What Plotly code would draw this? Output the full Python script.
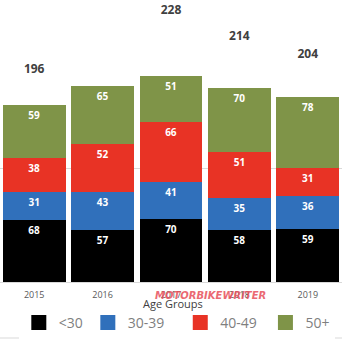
import plotly.graph_objects as go

years = ["2015", "2016", "2017", "2018", "2019"]
under30 = [68, 57, 70, 58, 59]
age30_39 = [31, 43, 41, 35, 36]
age40_49 = [38, 52, 66, 51, 31]
age50p = [59, 65, 51, 70, 78]
totals = [196, 217, 228, 214, 204]
series_names = ["<30", "30-39", "40-49", "50+"]
legend_pad = ["", "\u00a0\u00a0\u00a0", "\u00a0", ""]
colors = ["#000000", "#3070BB", "#E83325", "#7F9448"]

W, H = 343, 339
plot_bottom = 282
fig = go.Figure()
for name, pad, vals, col in zip(series_names, legend_pad, [under30, age30_39, age40_49, age50p], colors):
    fig.add_trace(go.Bar(
        x=years, y=vals, name=name, marker=dict(color=col, line=dict(width=0)),
        text=[str(v) for v in vals], textposition="inside", insidetextanchor="end",
        textangle=0, constraintext="none",
        textfont=dict(color="white", size=10, family="Open Sans"),
        texttemplate="<b>%{text}</b>", showlegend=False, hoverinfo="skip"))
    fig.add_trace(go.Scatter(
        x=[years[0]], y=[None], mode="markers", name=name + pad,
        marker=dict(symbol="square", size=15, color=col), showlegend=True))

# total labels (shown for selected years as in reference)
shown = [0, 2, 3, 4]
fig.add_trace(go.Scatter(
    x=[years[i] for i in shown], y=[totals[i] for i in shown], yaxis="y2",
    mode="text", text=["<b>%d</b>" % totals[i] for i in shown],
    textposition="middle center",
    textfont=dict(size=12, color="#404040", family="Open Sans"),
    showlegend=False, hoverinfo="skip"))

fig.update_layout(
    width=W, height=H, margin=dict(l=0, r=1, t=0, b=H - plot_bottom, autoexpand=False),
    paper_bgcolor="white", plot_bgcolor="white",
    barmode="stack", bargap=0.08,
    xaxis=dict(showline=True, linecolor="#d9d9d9", linewidth=1, ticks="",
               tickfont=dict(size=9, color="#595959", family="Open Sans"),
               ticklabelstandoff=4, range=[-0.5, 4.5]),
    yaxis=dict(range=[0, 282 / 0.905], tickvals=[125], showticklabels=False,
               showgrid=True, gridcolor="#d9d9d9", zeroline=False),
    yaxis2=dict(range=[80.8, 80.8 + 282 / 1.84], overlaying="y", visible=False),
    legend=dict(orientation="h", x=0.055, xanchor="left",
                y=-(339 - plot_bottom) / plot_bottom, yanchor="bottom",
                traceorder="normal",
                font=dict(size=14, color="#7F7F7F", family="Open Sans"),
                itemclick=False),
    showlegend=True,
)
fig.add_annotation(text="Age Groups", x=0.505, xref="paper", y=-(313 - plot_bottom) / plot_bottom,
                   yref="paper", showarrow=False, font=dict(size=11, color="#404040", family="Open Sans"))
fig.add_annotation(text="<b><i>MOTORBIKEWRITER</i></b>", x=0.615, xref="paper",
                   y=-(303 - plot_bottom) / plot_bottom, yref="paper", showarrow=False,
                   font=dict(size=10, color="#E8505B", family="DejaVu Sans"), opacity=0.85)
fig.add_shape(type="line", xref="paper", yref="paper", x0=0, x1=1,
              y0=-(338 - plot_bottom) / plot_bottom, y1=-(338 - plot_bottom) / plot_bottom,
              line=dict(color="#d9d9d9", width=1))
fig.write_html("out.html")
